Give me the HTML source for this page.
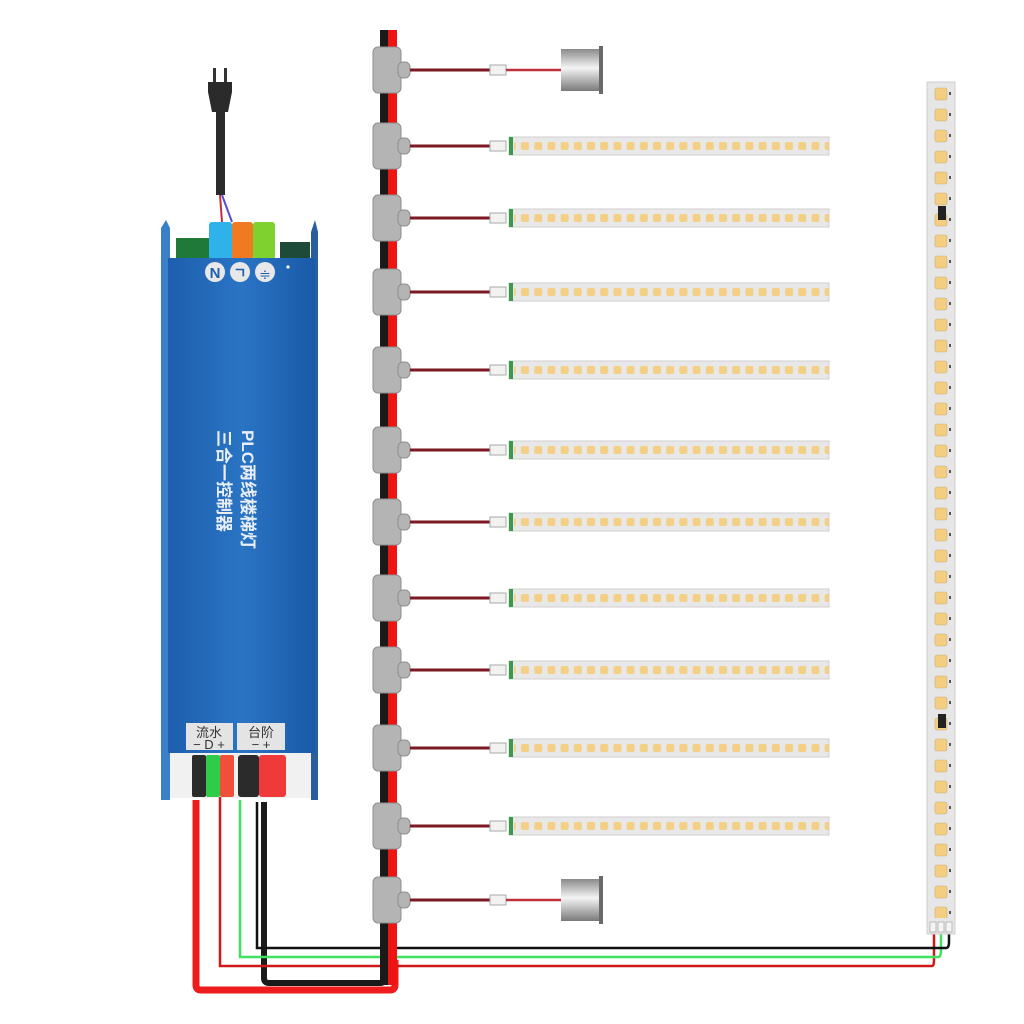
<!DOCTYPE html>
<html><head><meta charset="utf-8"><style>
html,body{margin:0;padding:0;background:#fff;width:1024px;height:1024px;overflow:hidden}
svg{display:block}
</style></head><body>
<svg width="1024" height="1024" viewBox="0 0 1024 1024" xmlns="http://www.w3.org/2000/svg">
<defs>
  <linearGradient id="blue" x1="0" x2="1" y1="0" y2="0">
    <stop offset="0" stop-color="#1d5fae"/><stop offset="0.5" stop-color="#2a74c4"/><stop offset="1" stop-color="#1a5aa8"/>
  </linearGradient>
  <linearGradient id="sens" x1="0" x2="0" y1="0" y2="1">
    <stop offset="0" stop-color="#8a8a8a"/><stop offset="0.45" stop-color="#f4f4f4"/><stop offset="1" stop-color="#7a7a7a"/>
  </linearGradient>
  <pattern id="leds" x="518" y="-9" width="13.2" height="18" patternUnits="userSpaceOnUse">
    <rect x="3" y="5" width="8" height="8" rx="2" fill="#f4cf86"/>
  </pattern>
  <pattern id="vleds" x="927" y="84" width="28" height="21" patternUnits="userSpaceOnUse">
    <rect x="8" y="4" width="12" height="12" rx="2" fill="#f3cd80" stroke="#c9b07a" stroke-width="0.6"/>
    <rect x="22" y="8" width="2" height="3" fill="#555"/>
  </pattern>
  <g id="tee">
    <rect x="373" y="-23" width="28" height="46" rx="5" fill="#b4b4b4" stroke="#8e8e8e"/>
    <rect x="398" y="-8" width="12" height="16" rx="5" fill="#b4b4b4" stroke="#8e8e8e"/>
  </g>
  <g id="strip">
    <line x1="410" y1="0" x2="492" y2="0" stroke="#7a1a22" stroke-width="3"/>
    <rect x="490" y="-5" width="16" height="10" fill="#f2f2f2" stroke="#aaa"/>
    <rect x="509" y="-9" width="320" height="18" fill="#e8e8e8" stroke="#cfcfcf"/>
    <rect x="509" y="-9" width="4" height="18" fill="#3a9a4a"/>
    <rect x="514" y="-9" width="315" height="18" fill="url(#leds)"/>
  </g>
  <g id="sensor">
    <line x1="410" y1="0" x2="492" y2="0" stroke="#7a1a22" stroke-width="3"/>
    <rect x="490" y="-5" width="16" height="10" fill="#f2f2f2" stroke="#aaa"/>
    <line x1="506" y1="0" x2="561" y2="0" stroke="#c0303a" stroke-width="2.5"/>
    <rect x="561" y="-21" width="40" height="42" fill="url(#sens)"/>
    <rect x="599" y="-24" width="4" height="48" fill="#6a6a6a"/>
  </g>
</defs>

<!-- plug -->
<rect x="213" y="68" width="3" height="14" fill="#333"/><rect x="224" y="68" width="3" height="14" fill="#333"/>
<path d="M208 82 H232 V92 L228 112 H212 L208 92 Z" fill="#2b2b2b"/>
<rect x="216" y="110" width="9" height="85" fill="#2b2b2b"/>
<line x1="220" y1="195" x2="222" y2="222" stroke="#c03040" stroke-width="2"/>
<line x1="222" y1="195" x2="232" y2="222" stroke="#5050d0" stroke-width="2"/>

<!-- controller -->
<path d="M161 228 L166 220 L170 228 V800 H161 Z" fill="#3a7fc8"/>
<path d="M311 232 L315 220 L318 232 V800 H311 Z" fill="#2a5f9e"/>
<rect x="176" y="238" width="40" height="22" fill="#1f7a3a"/>
<rect x="280" y="242" width="30" height="18" fill="#1e4a3a"/>
<rect x="209" y="222" width="23" height="38" rx="3" fill="#2fb2ea"/>
<rect x="232" y="222" width="21" height="38" rx="3" fill="#f07a22"/>
<rect x="253" y="222" width="22" height="38" rx="3" fill="#7ed12e"/>
<rect x="168" y="258" width="147" height="495" fill="url(#blue)"/>
<circle cx="215" cy="272" r="10" fill="#e8e8e8"/><circle cx="240" cy="272" r="10" fill="#e8e8e8"/><circle cx="265" cy="272" r="10" fill="#e8e8e8"/>
<text x="215" y="278" font-family="Liberation Sans, sans-serif" font-weight="bold" font-size="15" text-anchor="middle" fill="#1d5fae">N</text>
<text x="240" y="278" font-family="Liberation Sans, sans-serif" font-weight="bold" font-size="14" text-anchor="middle" fill="#1d5fae">ㄱ</text>
<text x="265" y="279" font-family="Liberation Sans, sans-serif" font-size="14" text-anchor="middle" fill="#1d5fae">≑</text>
<circle cx="288" cy="267" r="1.6" fill="#fff"/>
<g font-family="Liberation Sans, 'Noto Sans CJK SC', sans-serif" font-weight="bold" font-size="17" fill="#e9eef8">
  <text transform="translate(242,430) rotate(90)">PLC两线楼梯灯</text>
  <text transform="translate(218,430) rotate(90)">三合一控制器</text>
</g>
<!-- bottom labels -->
<rect x="186" y="723" width="47" height="27" fill="#e4e4e4"/>
<rect x="237" y="723" width="48" height="27" fill="#e4e4e4"/>
<g font-family="Liberation Sans, 'Noto Sans CJK SC', sans-serif" font-size="13" fill="#333" text-anchor="middle">
  <text x="209" y="737">流水</text><text x="209" y="749">− D +</text>
  <text x="261" y="737">台阶</text><text x="261" y="749">−   +</text>
</g>
<rect x="170" y="753" width="141" height="45" fill="#f1f1f1"/>
<rect x="192" y="755" width="14" height="42" rx="2" fill="#2b2b2b"/>
<rect x="206" y="755" width="14" height="42" rx="2" fill="#2fcc4a"/>
<rect x="220" y="755" width="14" height="42" rx="2" fill="#f0503a"/>
<rect x="238" y="755" width="21" height="42" rx="3" fill="#2b2b2b"/>
<rect x="259" y="755" width="27" height="42" rx="3" fill="#f03a3a"/>

<!-- bottom wires -->
<path d="M196 800 V985 Q196 990 201 990 H390 Q395 990 395 985 V960" fill="none" stroke="#ee1c1c" stroke-width="7"/>
<path d="M264 802 V978 Q264 983 269 983 H380 Q385 983 385 978 V960" fill="none" stroke="#1a1a1a" stroke-width="6"/>
<path d="M220 797 V966 H932 Q934 966 934 960 V932" fill="none" stroke="#d01818" stroke-width="2.5"/>
<path d="M240 800 V957 H938 Q941 957 941 950 V932" fill="none" stroke="#40e060" stroke-width="2.5"/>
<path d="M257 802 V948 H946 Q949 948 949 942 V932" fill="none" stroke="#111" stroke-width="2.5"/>

<!-- bus -->
<rect x="380" y="30" width="8" height="955" fill="#1a1a1a"/>
<rect x="388" y="30" width="9" height="955" fill="#ee1414"/>

<!-- tees -->
<use href="#tee" transform="translate(0,70)"/>
<use href="#tee" transform="translate(0,146)"/>
<use href="#tee" transform="translate(0,218)"/>
<use href="#tee" transform="translate(0,292)"/>
<use href="#tee" transform="translate(0,370)"/>
<use href="#tee" transform="translate(0,450)"/>
<use href="#tee" transform="translate(0,522)"/>
<use href="#tee" transform="translate(0,598)"/>
<use href="#tee" transform="translate(0,670)"/>
<use href="#tee" transform="translate(0,748)"/>
<use href="#tee" transform="translate(0,826)"/>
<use href="#tee" transform="translate(0,900)"/>

<use href="#sensor" transform="translate(0,70)"/>
<use href="#strip" transform="translate(0,146)"/>
<use href="#strip" transform="translate(0,218)"/>
<use href="#strip" transform="translate(0,292)"/>
<use href="#strip" transform="translate(0,370)"/>
<use href="#strip" transform="translate(0,450)"/>
<use href="#strip" transform="translate(0,522)"/>
<use href="#strip" transform="translate(0,598)"/>
<use href="#strip" transform="translate(0,670)"/>
<use href="#strip" transform="translate(0,748)"/>
<use href="#strip" transform="translate(0,826)"/>
<use href="#sensor" transform="translate(0,900)"/>

<!-- right vertical strip -->
<rect x="927" y="82" width="28" height="852" fill="#e6e6e6" stroke="#cfcfcf"/>
<rect x="927" y="84" width="28" height="834" fill="url(#vleds)"/>
<rect x="938" y="206" width="8" height="14" fill="#222"/>
<rect x="938" y="714" width="8" height="14" fill="#222"/>
<rect x="930" y="922" width="6" height="10" fill="#f4f4f4" stroke="#bbb"/>
<rect x="938" y="922" width="6" height="10" fill="#f4f4f4" stroke="#bbb"/>
<rect x="946" y="922" width="6" height="10" fill="#f4f4f4" stroke="#bbb"/>
</svg>
</body></html>
